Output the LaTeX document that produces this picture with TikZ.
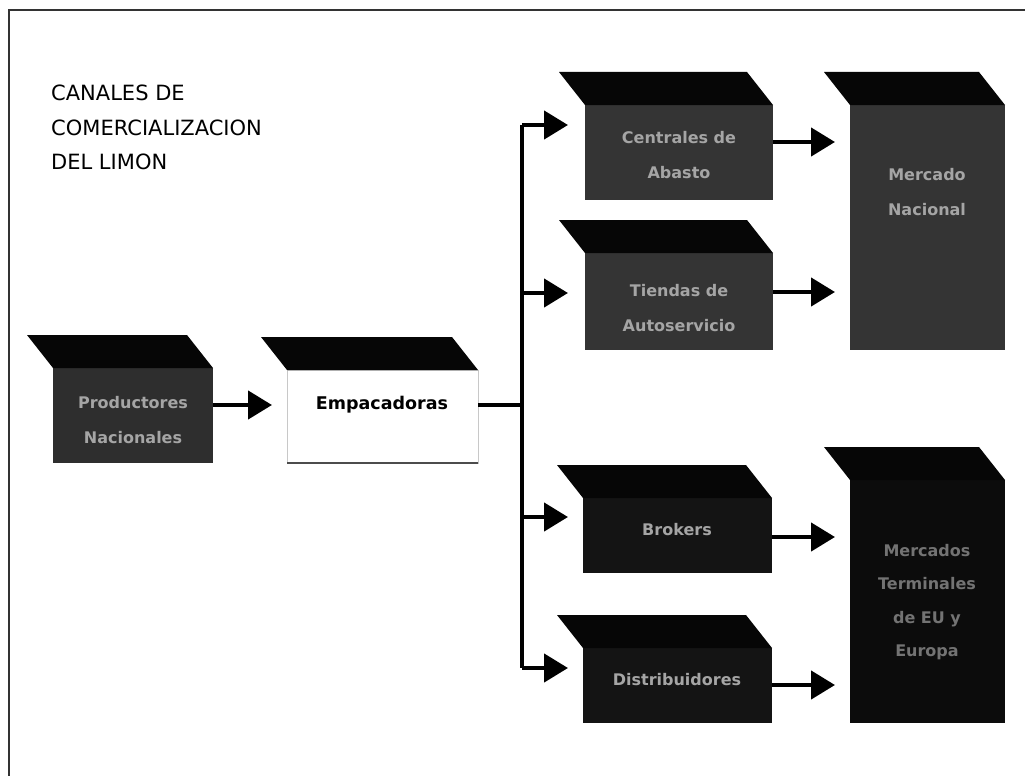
\documentclass[tikz,border=0pt]{standalone}
\usepackage{fontspec}
\setmainfont{DejaVu Sans}
\usetikzlibrary{arrows.meta}
\definecolor{faceA}{RGB}{46,46,46}
\definecolor{faceB}{RGB}{52,52,52}
\definecolor{faceC}{RGB}{20,20,20}
\definecolor{faceD}{RGB}{12,12,12}
\definecolor{topblack}{RGB}{6,6,6}
\definecolor{txtgray}{RGB}{165,165,165}
\definecolor{txtdim}{RGB}{115,115,115}
\definecolor{empborder}{RGB}{200,200,200}
\newcommand{\topface}[1]{%
  \fill[topblack] (#1.north west) -- (#1.north east)
    -- ([shift={(-26,-33)}]#1.north east) -- ([shift={(-26,-33)}]#1.north west) -- cycle;}
\begin{document}
\begin{tikzpicture}[x=1pt,y=-1pt,
  boxface/.style={rectangle, anchor=north west, inner sep=0pt, outer sep=0pt, fill=#1},
  boxtxt/.style={font=\fontsize{16}{35}\selectfont\bfseries, text=txtgray, align=center, inner sep=0pt},
  conn/.style={line width=4.5pt, draw=black},
  arr/.style={conn, -{Triangle[length=24pt,width=28pt]}},
  frame/.style={line width=2pt, draw=black!80}]
\useasboundingbox (0,0) rectangle (1025,776);
\fill[white] (0,0) rectangle (1025,776);
\draw[frame] (9,776) -- (9,10) -- (1025,10);

% title
\node[anchor=north west, align=left, inner sep=0pt, font=\fontsize{21}{34.5}\selectfont] (title) at (51,85)
  {CANALES DE\\COMERCIALIZACION\\DEL LIMON};

% boxes (front faces)
\node[boxface=faceA, minimum width=160pt, minimum height=95pt] (prod) at (53,368) {};
\node[boxface=white, draw=empborder, line width=1pt, minimum width=191pt, minimum height=93pt] (emp) at (287,370) {};
\node[boxface=faceB, minimum width=188pt, minimum height=95pt] (cent) at (585,105) {};
\node[boxface=faceB, minimum width=188pt, minimum height=97pt] (tiend) at (585,253) {};
\node[boxface=faceB, minimum width=155pt, minimum height=245pt] (merc) at (850,105) {};
\node[boxface=faceC, minimum width=189pt, minimum height=75pt] (brok) at (583,498) {};
\node[boxface=faceC, minimum width=189pt, minimum height=75pt] (dist) at (583,648) {};
\node[boxface=faceD, minimum width=155pt, minimum height=243pt] (mter) at (850,480) {};
\draw[black!70, line width=1.2pt] (emp.south west) -- (emp.south east);

% top faces
\topface{prod}
\topface{emp}
\topface{cent}
\topface{tiend}
\topface{merc}
\topface{brok}
\topface{dist}
\topface{mter}

% texts
\node[boxtxt] (prodtxt) at (133,420) {Productores\\Nacionales};
\node[font=\fontsize{17.5}{35}\selectfont\bfseries, inner sep=0pt] (emptxt) at (382,405) {Empacadoras};
\node[boxtxt] (centtxt) at (679,155) {Centrales de\\Abasto};
\node[boxtxt] (tiendtxt) at (679,308) {Tiendas de\\Autoservicio};
\node[boxtxt] (merctxt) at (927,192) {Mercado\\Nacional};
\node[boxtxt] (broktxt) at (677,530) {Brokers};
\node[boxtxt] (disttxt) at (677,680) {Distribuidores};
\node[boxtxt, text=txtdim, font=\fontsize{16}{33.5}\selectfont\bfseries] (mtertxt) at (927,602) {Mercados\\Terminales\\de EU y\\Europa};

% connector coordinates
\coordinate (split) at (522,405);
\coordinate (j1) at (568,125);
\coordinate (j2) at (568,293);
\coordinate (j3) at (568,517);
\coordinate (j4) at (568,668);
\coordinate (k1) at (835,142);
\coordinate (k2) at (835,292);
\coordinate (k3) at (835,537);
\coordinate (k4) at (835,685);

% connectors
\draw[arr] (prod.east |- emptxt) -- ([xshift=-15pt]emp.west |- emptxt);
\draw[conn] (emp.east |- split) -- (split);
\draw[conn] (split |- j1) -- (split |- j4);
\draw[arr] (split |- j1) -- (j1);
\draw[arr] (split |- j2) -- (j2);
\draw[arr] (split |- j3) -- (j3);
\draw[arr] (split |- j4) -- (j4);
\draw[arr] (cent.east |- k1) -- (k1);
\draw[arr] (tiend.east |- k2) -- (k2);
\draw[arr] (brok.east |- k3) -- (k3);
\draw[arr] (dist.east |- k4) -- (k4);
\end{tikzpicture}
\end{document}
